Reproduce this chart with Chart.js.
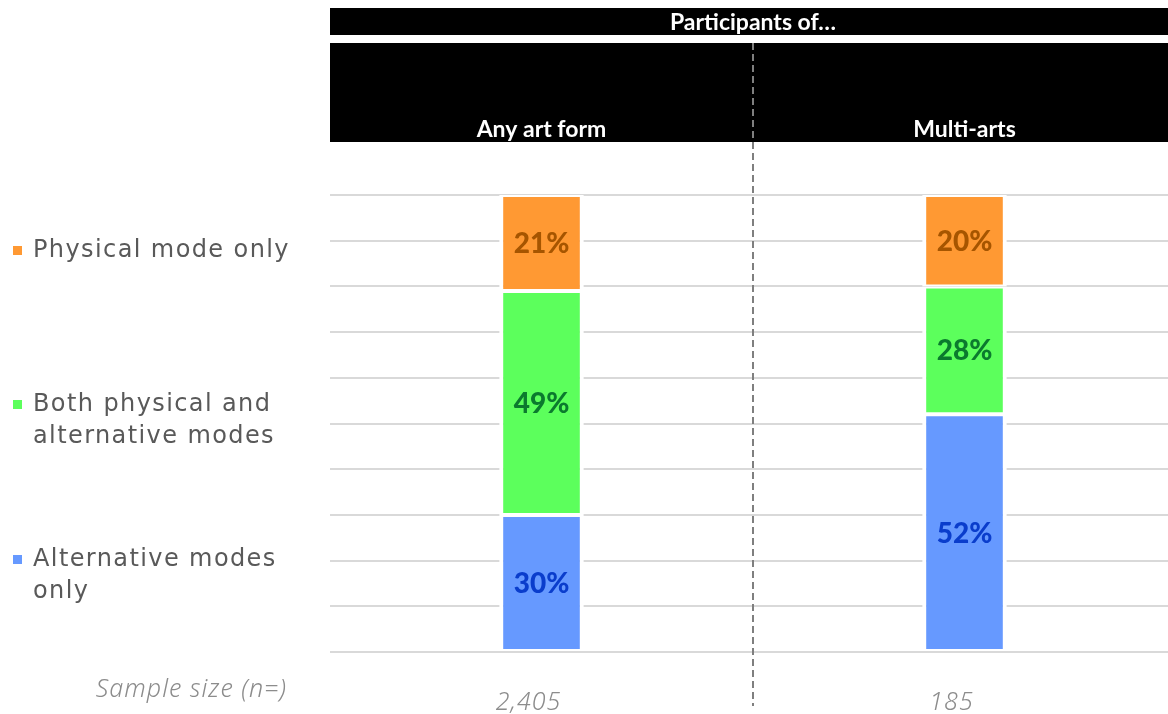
<!DOCTYPE html>
<html>
<head>
<meta charset="utf-8">
<script src="https://cdn.jsdelivr.net/npm/chart.js@4"></script>
<style>
  html, body { margin: 0; padding: 0; background: #fff; overflow: hidden; }
  #wrap { position: relative; width: 1168px; height: 714px; overflow: hidden; }
</style>
</head>
<body>
<div id="wrap"><canvas id="chart" width="1176" height="714"></canvas></div>
<script>
const categories = ["Any art form", "Multi-arts"];
const sampleSizes = ["2,405", "185"];
const seriesNames = ["Alternative modes only", "Both physical and alternative modes", "Physical mode only"];
const alternativeOnly = [30, 52];
const bothModes = [49, 28];
const physicalOnly = [21, 20];

const fillColors = ["#6699ff", "#5cff5c", "#ff9933"];
const labelColors = ["#0a3dcc", "#0b7a2e", "#a65500"];

const headerPlugin = {
    id: "header",
    afterDraw(chart) {
        const ctx = chart.ctx;
        const area = chart.chartArea;
        const xs = chart.scales.x;
        const mid = (xs.getPixelForValue(0) + xs.getPixelForValue(1)) / 2;
        ctx.save();

        // black header boxes
        ctx.fillStyle = "#000";
        ctx.fillRect(area.left, 8, area.right - area.left, 27);
        ctx.fillRect(area.left, 43, area.right - area.left, 99);
        ctx.fillStyle = "#fff";
        ctx.font = "bold 23px Lato";
        ctx.textAlign = "center";
        ctx.textBaseline = "alphabetic";
        ctx.fillText("Participants of\u2026", mid, 30);
        categories.forEach((c, i) => {
            ctx.fillText(c, xs.getPixelForValue(i), 137);
        });

        // dashed divider
        ctx.strokeStyle = "#7f7f7f";
        ctx.lineWidth = 2;
        ctx.setLineDash([7, 4]);
        ctx.beginPath();
        ctx.moveTo(mid, 43);
        ctx.lineTo(mid, 706);
        ctx.stroke();
        ctx.setLineDash([]);

        // value labels
        ctx.font = "900 28px Lato";
        ctx.textBaseline = "middle";
        chart.data.datasets.forEach((ds, di) => {
            chart.getDatasetMeta(di).data.forEach((bar, i) => {
                const p = bar.getProps(["x", "y", "base"], true);
                ctx.fillStyle = labelColors[di];
                ctx.fillText(ds.data[i] + "%", p.x, (p.y + p.base) / 2 + 1);
            });
        });

        // legend
        const legendY = [[251], [405, 437], [560, 592]];
        const legendLines = [["Physical mode only"], ["Both physical and", "alternative modes"], ["Alternative modes", "only"]];
        const legendColors = [fillColors[2], fillColors[1], fillColors[0]];
        ctx.textAlign = "left";
        ctx.font = "24px 'DejaVu Sans'";
        ctx.letterSpacing = "1.4px";
        legendLines.forEach((lines, i) => {
            ctx.fillStyle = legendColors[i];
            ctx.fillRect(13, legendY[i][0] - 5, 9, 9);
            ctx.fillStyle = "#595959";
            lines.forEach((t, j) => ctx.fillText(t, 33, legendY[i][j]));
        });

        // sample size row
        ctx.fillStyle = "#8c8c8c";
        ctx.font = "italic 300 25px 'Noto Sans'";
        ctx.letterSpacing = "1px";
        ctx.textAlign = "right";
        ctx.fillText("Sample size (n=)", 287, 690);
        ctx.textAlign = "center";
        sampleSizes.forEach((s, i) => {
            ctx.fillText(s, xs.getPixelForValue(i) - 13, 703);
        });
        ctx.restore();
    }
};

const datasets = [alternativeOnly, bothModes, physicalOnly].map((vals, i) => ({
    label: seriesNames[i],
    data: vals,
    backgroundColor: fillColors[i],
    borderColor: "#ffffff",
    borderWidth: { top: 2, bottom: 2, left: 4, right: 4 },
    borderSkipped: false,
    barPercentage: 0.2,
    categoryPercentage: 1
}));

new Chart(document.getElementById("chart"), {
    type: "bar",
    data: { labels: categories, datasets: datasets },
    options: {
        responsive: false,
        animation: false,
        layout: { padding: { left: 330, right: 0, top: 195, bottom: 62 } },
        plugins: { legend: { display: false }, tooltip: { enabled: false } },
        scales: {
            x: {
                stacked: true,
                display: false
            },
            y: {
                stacked: true,
                min: 0,
                max: 100,
                ticks: { display: false, stepSize: 10 },
                border: { display: false },
                grid: { color: "#d9d9d9", lineWidth: 2, drawTicks: false }
            }
        }
    },
    plugins: [headerPlugin]
});
</script>
</body>
</html>
